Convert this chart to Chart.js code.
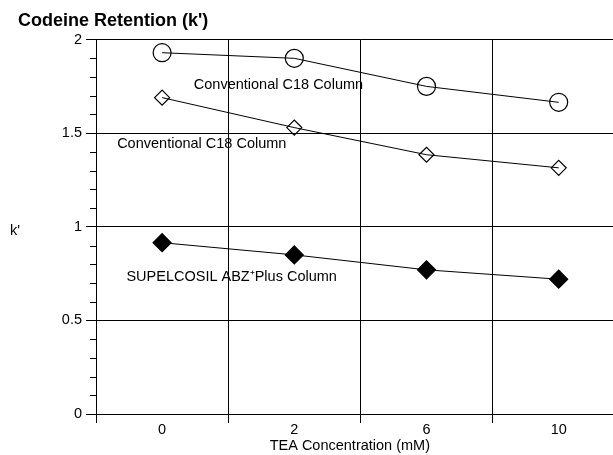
<!DOCTYPE html>
<html>
<head>
<meta charset="utf-8">
<script src="https://cdn.jsdelivr.net/npm/chart.js@4"></script>
<style>
  html, body { margin: 0; padding: 0; background: #fff; overflow: hidden; }
  #wrap { width: 613px; height: 455px; overflow: hidden; }
</style>
</head>
<body>
<div id="wrap"><canvas id="chart" width="635" height="455"></canvas></div>
<script>
// TEA concentration (mM), one category per run
const teaLevels = ["0", "2", "6", "10"];

// k'
const c18Top = [1.93, 1.90, 1.75, 1.665];
const c18Bottom = [1.69, 1.53, 1.385, 1.315];
const abzPlus = [0.915, 0.85, 0.77, 0.72];

const seriesNames = ["Conventional C18 Column", "Conventional C18 Column", "SUPELCOSIL ABZ\u207APlus Column"];
const majorTicks = [0, 0.5, 1, 1.5, 2];

const FONT = '"Liberation Sans", Arial, Helvetica, sans-serif';

// where the in-plot labels sit (category index, k')
const labelSpots = [
  { x: 0.24, y: 1.76 },
  { x: -0.34, y: 1.44 },
  { x: -0.27, y: 0.73 },
];

function isMajor(v) {
  return majorTicks.some((m) => Math.abs(m - v) < 1e-6);
}

// text labels, y title, x title and short minor ticks
const extras = {
  id: "extras",
  afterDraw(chart) {
    const { ctx } = chart;
    const x = chart.scales.x;
    const y = chart.scales.y;
    ctx.save();
    ctx.fillStyle = "#000";
    ctx.font = "14.5px " + FONT;
    ctx.textBaseline = "middle";
    ctx.textAlign = "left";
    labelSpots.forEach((p, i) => {
      ctx.fillText(seriesNames[i], x.getPixelForValue(p.x), y.getPixelForValue(p.y));
    });
    ctx.fillText("k'", 10, y.getPixelForValue(0.98));

    ctx.textAlign = "center";
    ctx.fillText("TEA Concentration (mM)", x.getPixelForValue(1.42), 446);

    // minor ticks every 0.1
    ctx.strokeStyle = "#000";
    ctx.lineWidth = 1;
    y.ticks.forEach((t) => {
      if (isMajor(t.value)) return;
      const py = Math.round(y.getPixelForValue(t.value)) + 0.5;
      ctx.beginPath();
      ctx.moveTo(y.right - 6, py);
      ctx.lineTo(y.right, py);
      ctx.stroke();
    });
    ctx.restore();
  },
};

const lineSet = (label, data, style, radius, fill) => ({
  label: label,
  data: data,
  borderColor: "#000",
  borderWidth: 1,
  pointStyle: style,
  pointRadius: radius,
  pointBorderWidth: 1.2,
  pointBorderColor: "#000",
  pointBackgroundColor: fill,
  tension: 0,
});

new Chart(document.getElementById("chart"), {
  type: "line",
  data: {
    labels: teaLevels,
    datasets: [
      lineSet(seriesNames[0], c18Top, "circle", 9, "rgba(0,0,0,0)"),
      lineSet(seriesNames[1], c18Bottom, "rectRot", 7.5, "rgba(0,0,0,0)"),
      lineSet(seriesNames[2], abzPlus, "rectRot", 9, "#000"),
    ],
  },
  options: {
    responsive: false,
    animation: false,
    layout: { padding: { left: 18, right: 4, top: 0, bottom: 0 } },
    plugins: {
      legend: { display: false },
      tooltip: { enabled: false },
      title: {
        display: true,
        text: "Codeine Retention (k')",
        align: "start",
        color: "#000",
        font: { family: FONT, size: 18, weight: "bold", lineHeight: 1.2 },
        padding: { top: 10, bottom: 8 },
      },
    },
    scales: {
      x: {
        offset: true,
        afterFit: (s) => { s.height = 41; },
        grid: { offset: true, color: "#000", lineWidth: 1, tickLength: 9 },
        border: { color: "#000", width: 1 },
        ticks: {
          color: "#000",
          padding: 0,
          font: { family: FONT, size: 14.5, lineHeight: 1 },
        },
      },
      y: {
        min: 0,
        max: 2,
        afterFit: (s) => { s.width = 78; },
        grid: {
          color: (c) => (isMajor(c.tick.value) ? "#000" : "rgba(0,0,0,0)"),
          lineWidth: 1,
          tickLength: 10,
        },
        border: { color: "#000", width: 1 },
        ticks: {
          stepSize: 0.1,
          autoSkip: false,
          padding: 4,
          color: "#000",
          font: { family: FONT, size: 14.5 },
          callback: (v) => (isMajor(v) ? String(Math.round(v * 2) / 2) : ""),
        },
      },
    },
  },
  plugins: [extras],
});
</script>
</body>
</html>
